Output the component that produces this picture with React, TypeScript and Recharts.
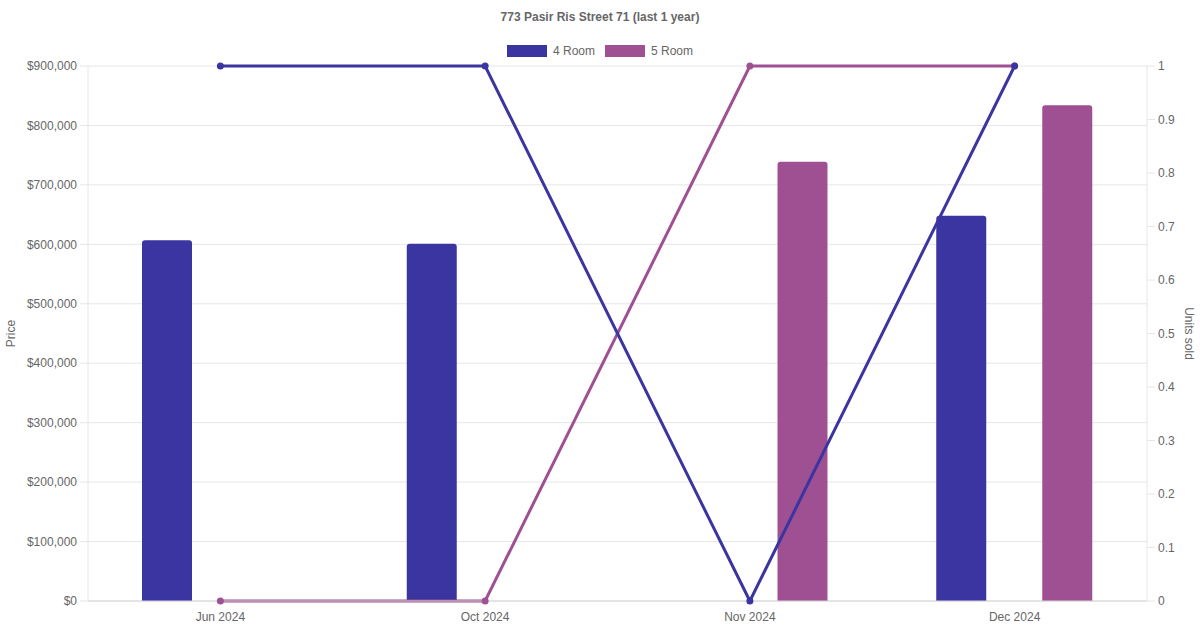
import { ComposedChart, Bar, Line, XAxis, YAxis, CartesianGrid } from 'recharts'

const months = ['Jun 2024', 'Oct 2024', 'Nov 2024', 'Dec 2024']
const price4Room = [607000, 601000, null, 648000]
const price5Room = [null, null, 739000, 834000]
const units4Room = [1, 1, 0, 1]
const units5Room = [0, 0, 1, 1]
const priceTicks = [0, 100000, 200000, 300000, 400000, 500000, 600000, 700000, 800000, 900000]
const unitTicks = [0, 0.1, 0.2, 0.3, 0.4, 0.5, 0.6, 0.7, 0.8, 0.9, 1]

const BLUE = '#3a35a0'
const PURPLE = '#9f5092'
const FONT = '"Liberation Sans", Arial, sans-serif'

const data = months.map((month, i) => ({
  month,
  price4: price4Room[i],
  price5: price5Room[i],
  units4: units4Room[i],
  units5: units5Room[i],
}))

const legendItems = [
  { name: '4 Room', color: BLUE },
  { name: '5 Room', color: PURPLE },
]

const tickStyle = { fill: '#666', fontSize: 12, fontFamily: FONT }

function PriceLabel({ viewBox }: any) {
  const cy = viewBox.y + viewBox.height / 2
  return (
    <text x={11} y={cy} transform={`rotate(-90, 11, ${cy})`} textAnchor="middle" dominantBaseline="central" fill="#666" fontSize={12} fontFamily={FONT}>
      Price
    </text>
  )
}

function UnitsLabel({ viewBox }: any) {
  const cy = viewBox.y + viewBox.height / 2
  const x = 1189
  return (
    <text x={x} y={cy} transform={`rotate(90, ${x}, ${cy})`} textAnchor="middle" dominantBaseline="central" fill="#666" fontSize={12} fontFamily={FONT}>
      Units sold
    </text>
  )
}

export default function App() {
  return (
    <div style={{ position: 'absolute', left: 0, top: 0, width: 1200, height: 630, background: '#fff', fontFamily: FONT }}>
      <div style={{ position: 'absolute', top: 10, left: 0, width: 1200, textAlign: 'center', fontSize: 12, fontWeight: 'bold', color: '#666' }}>
        773 Pasir Ris Street 71 (last 1 year)
      </div>
      <div style={{ position: 'absolute', top: 44, left: 0, width: 1200, display: 'flex', justifyContent: 'center', gap: 10, fontSize: 12, color: '#666' }}>
        {legendItems.map((item) => (
          <div key={item.name} style={{ display: 'flex', alignItems: 'center' }}>
            <span style={{ display: 'inline-block', width: 40, height: 12, background: item.color, marginRight: 6 }} />
            <span>{item.name}</span>
          </div>
        ))}
      </div>
      <ComposedChart width={1200} height={630} data={data} margin={{ top: 66, right: 0, bottom: 0, left: 0 }} barGap={56} barCategoryGap={0}>
        <CartesianGrid yAxisId="price" vertical={false} stroke="#e6e6e6" />
        <XAxis
          dataKey="month"
          height={29}
          tick={tickStyle}
          tickLine={false}
          tickSize={8}
          tickMargin={3}
          axisLine={{ stroke: '#d4d4d4' }}
        />
        <YAxis
          yAxisId="price"
          orientation="left"
          width={88}
          domain={[0, 900000]}
          ticks={priceTicks}
          tickFormatter={(v: number) => `$${v.toLocaleString('en-US')}`}
          tick={tickStyle}
          tickSize={8}
          tickMargin={3}
          tickLine={{ stroke: '#e6e6e6' }}
          axisLine={{ stroke: '#e6e6e6' }}
          label={<PriceLabel />}
        />
        <YAxis
          yAxisId="units"
          orientation="right"
          width={53}
          domain={[0, 1]}
          ticks={unitTicks}
          tick={tickStyle}
          tickSize={8}
          tickMargin={3}
          tickLine={{ stroke: '#e6e6e6' }}
          axisLine={{ stroke: '#e6e6e6' }}
          label={<UnitsLabel />}
        />
        <Bar yAxisId="price" dataKey="price4" name="4 Room" fill={BLUE} barSize={50} radius={[3, 3, 0, 0]} isAnimationActive={false} />
        <Bar yAxisId="price" dataKey="price5" name="5 Room" fill={PURPLE} barSize={50} radius={[3, 3, 0, 0]} isAnimationActive={false} />
        <Line
          yAxisId="units"
          dataKey="units5"
          stroke={PURPLE}
          strokeWidth={3}
          dot={{ r: 3.5, fill: PURPLE, stroke: PURPLE, strokeWidth: 0 }}
          isAnimationActive={false}
        />
        <Line
          yAxisId="units"
          dataKey="units4"
          stroke={BLUE}
          strokeWidth={3}
          dot={{ r: 3.5, fill: BLUE, stroke: BLUE, strokeWidth: 0 }}
          isAnimationActive={false}
        />
      </ComposedChart>
    </div>
  )
}
